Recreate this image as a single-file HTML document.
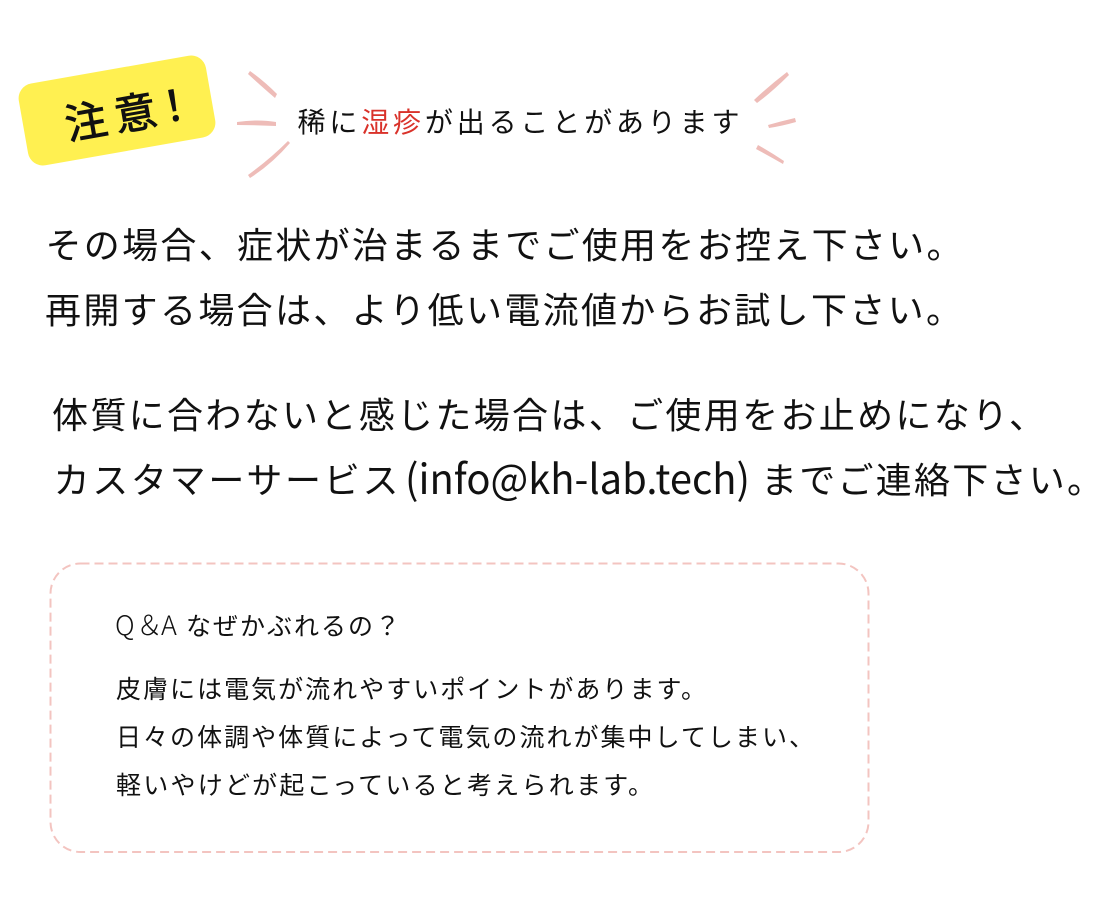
<!DOCTYPE html>
<html lang="ja"><head><meta charset="utf-8"><style>
html,body{margin:0;padding:0;background:#fff}
svg{display:block}
text{font-family:"Liberation Sans","Noto Sans CJK JP",sans-serif;font-weight:400;fill:#111;white-space:pre}
.m{font-size:36px}.b{font-size:25px}
.n{font-family:"Noto Sans CJK JP",sans-serif;font-weight:300}
</style></head><body>
<svg width="1096" height="903" viewBox="0 0 1096 903" xmlns="http://www.w3.org/2000/svg">
<rect x="22" y="69" width="190" height="83" rx="15" fill="#fff051" transform="rotate(-10 117 110.5)"/>
<text transform="translate(68 140) rotate(-10)" x="0 50 89" style="font-size:42px;stroke:#111;stroke-width:.9px">注意！</text>
<g fill="#eebcb8">
<path d="M250 71 Q264 81 277 94 L275 98 Q260 85 248 74Z"/>
<path d="M237 122 Q258 119 276 122 L276 126 Q256 125 237 125Z"/>
<path d="M290 143 L288 141 Q270 159 248 175 L250 178 Q272 164 290 143Z"/>
<path d="M787 72 L789 75 Q772 92 757 103 L754 100 Q770 85 787 72Z"/>
<path d="M795 118 L796 122 Q782 126 769 128 L768 125 Q782 121 795 118Z"/>
<path d="M758 145 Q772 153 784 161 L783 164 Q769 156 756 149Z"/>
</g>
<text x="297.5" y="132" textLength="442" style="font-size:28px">稀に<tspan style="fill:#d9322a">湿疹</tspan>が出ることがあります</text>
<text class="m" x="45.5" y="258" textLength="917">その場合、症状が治まるまでご使用をお控え下さい。</text>
<text class="m" x="45" y="323" textLength="917">再開する場合は、より低い電流値からお試し下さい。</text>
<text class="m" x="52" y="428" textLength="993">体質に合わないと感じた場合は、ご使用をお止めになり、</text>
<text class="m" x="53.5" y="493" textLength="345">カスタマーサービス</text>
<text class="n" x="405" y="494" textLength="345" lengthAdjust="spacingAndGlyphs" style="font-size:41px;font-weight:400">(info@kh-lab.tech)</text>
<text class="m" x="761" y="493" textLength="342">までご連絡下さい。</text>
<rect x="50.5" y="563.5" width="818" height="288.5" rx="30" fill="none" stroke="#f3c4c0" stroke-width="2" stroke-dasharray="9 5"/>
<text class="n" x="115 136 161" y="635" style="font-size:27px">Q＆A</text>
<text class="b" x="186" y="635" textLength="214">なぜかぶれるの？</text>
<text class="b" x="116" y="698" textLength="590">皮膚には電気が流れやすいポイントがあります。</text>
<text class="b" x="116" y="746" textLength="698">日々の体調や体質によって電気の流れが集中してしまい、</text>
<text class="b" x="116" y="794" textLength="537">軽いやけどが起こっていると考えられます。</text>
</svg>
</body></html>
